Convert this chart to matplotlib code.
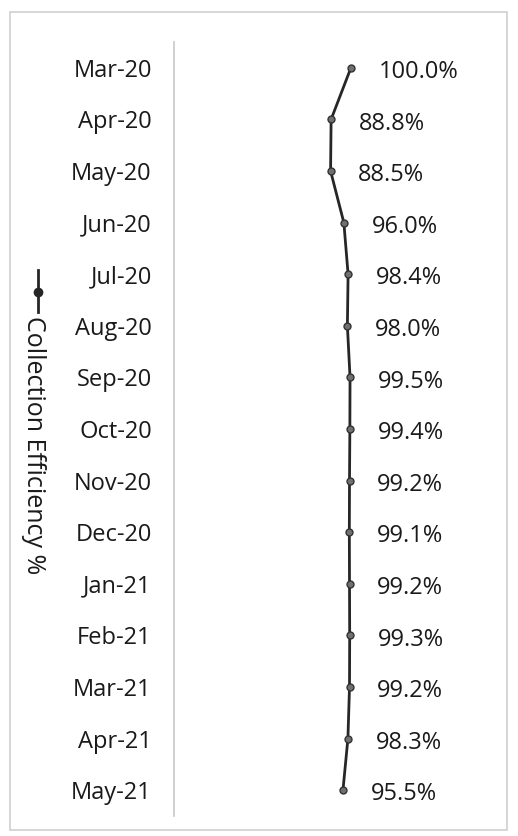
import matplotlib.pyplot as plt
from matplotlib.lines import Line2D
from matplotlib.patches import Rectangle

plt.rcParams['font.family'] = ['Open Sans', 'DejaVu Sans']

months = ["Mar-20", "Apr-20", "May-20", "Jun-20", "Jul-20", "Aug-20",
          "Sep-20", "Oct-20", "Nov-20", "Dec-20", "Jan-21", "Feb-21",
          "Mar-21", "Apr-21", "May-21"]
efficiency = [100.0, 88.8, 88.5, 96.0, 98.4, 98.0, 99.5, 99.4,
              99.2, 99.1, 99.2, 99.3, 99.2, 98.3, 95.5]
series_name = "Collection Efficiency %"

W, H = 518, 836
fig = plt.figure(figsize=(W / 100, H / 100), dpi=100)

# outer chart border
fig.patches.append(Rectangle((10 / W, 1 - 830 / H), 497 / W, 818 / H,
                             transform=fig.transFigure, fill=False,
                             edgecolor="#d0d0d0", linewidth=1.2))

ax = fig.add_axes([174 / W, 1 - 816 / H, 322 / W, 774 / H])

pos = list(range(len(months)))
ax.plot(efficiency, pos, color="#262626", linewidth=2,
        marker="o", markersize=5, markerfacecolor="#707070",
        markeredgecolor="#333333", markeredgewidth=1)

for v, p in zip(efficiency, pos):
    ax.annotate(f"{v:.1f}%", (v, p), xytext=(20, -3),
                textcoords="offset points", ha="left", va="center",
                fontsize=17, color="#1a1a1a")

ax.set_xlim(0, 182)
ax.set_ylim(len(months) - 0.5, -0.5)
ax.set_yticks(pos)
ax.set_yticklabels(months, fontsize=17, color="#1a1a1a")
ax.tick_params(axis="y", length=0, pad=16)
ax.set_xticks([])

for s in ["top", "right", "bottom"]:
    ax.spines[s].set_visible(False)
ax.spines["left"].set_color("#c8c8c8")
ax.spines["left"].set_linewidth(1.2)

# rotated legend on the left
fig.lines.append(Line2D([38 / W, 38 / W], [1 - 270 / H, 1 - 312 / H],
                        transform=fig.transFigure, color="#262626",
                        linewidth=2))
fig.lines.append(Line2D([38 / W], [1 - 292 / H],
                        transform=fig.transFigure, color="#262626",
                        marker="o", markersize=6, linestyle="none"))
fig.text(33 / W, 1 - 316 / H, series_name, rotation=270,
         ha="center", va="top", fontsize=18, color="#1a1a1a")

fig.savefig("out.png", dpi=100)
